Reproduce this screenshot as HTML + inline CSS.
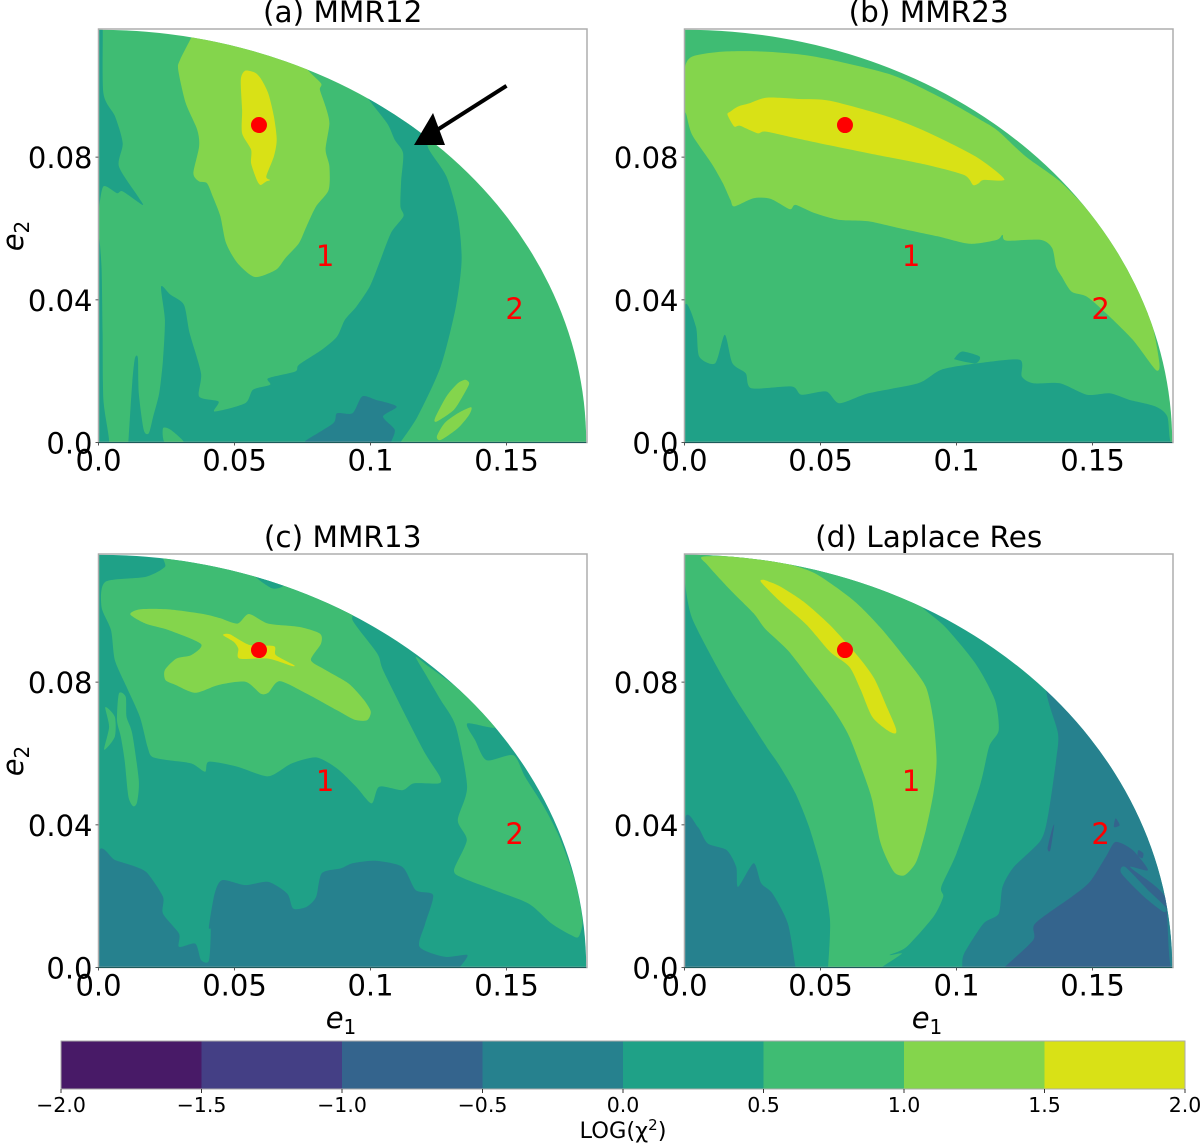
<!DOCTYPE html>
<html lang="en">
<head>
<meta charset="utf-8">
<title>Chi-squared contour maps of resonances</title>
<style>
html,body{margin:0;padding:0;background:#fff;}
svg{display:block;font-family:"DejaVu Sans","Liberation Sans",sans-serif;}
</style>
</head>
<body>
<svg id="figure" width="1200" height="1144" viewBox="0 0 1200 1144" xmlns="http://www.w3.org/2000/svg">
  <rect x="0" y="0" width="1200" height="1144" fill="#fff"/>
  <g id="panel-a"></g>
  <g id="panel-b"></g>
  <g id="panel-c"></g>
  <g id="panel-d"></g>
  <text x="342.7" y="22" font-size="29.5" text-anchor="middle">(a) MMR12</text>
  <text x="928.7" y="22" font-size="29.5" text-anchor="middle">(b) MMR23</text>
  <text x="342.7" y="547" font-size="29.5" text-anchor="middle">(c) MMR13</text>
  <text x="928.7" y="547" font-size="29.5" text-anchor="middle">(d) Laplace Res</text>
  <text transform="translate(23,236) rotate(-90)" font-size="29" text-anchor="middle"><tspan font-style="italic">e</tspan><tspan font-size="20" dy="6">2</tspan></text>
  <text transform="translate(23,761) rotate(-90)" font-size="29" text-anchor="middle"><tspan font-style="italic">e</tspan><tspan font-size="20" dy="6">2</tspan></text>
  <text x="341" y="1028" font-size="29" text-anchor="middle"><tspan font-style="italic">e</tspan><tspan font-size="20" dy="6">1</tspan></text>
  <text x="927" y="1028" font-size="29" text-anchor="middle"><tspan font-style="italic">e</tspan><tspan font-size="20" dy="6">1</tspan></text>
  <g id="colorbar"></g>
  <text x="623" y="1138" font-size="22.5" text-anchor="middle">LOG(χ<tspan font-size="15" dy="-8">2</tspan><tspan dy="8">)</tspan></text>
</svg>
<script>
/* All contour vertices are flat [e1, e2, e1, e2, ...] lists in thousandths of eccentricity. */
const levelBounds = [-2.0, -1.5, -1.0, -0.5, 0.0, 0.5, 1.0, 1.5, 2.0];
const levelColors = ["#481a67", "#443f85", "#34648d", "#26818e", "#1fa187", "#3fbc73", "#84d54c", "#d9e116"];
const colorbarTickLabels = ["\u22122.0", "\u22121.5", "\u22121.0", "\u22120.5", "0.0", "0.5", "1.0", "1.5", "2.0"];
const xTicks = [0, 50, 100, 150];
const xTickLabels = ["0.0", "0.05", "0.1", "0.15"];
const yTicks = [0, 40, 80];
const yTickLabels = ["0.0", "0.04", "0.08"];
const domainE1Max = 179.3;
const domainE2Max = 115.7;
const bestFit = [59, 89];
const regionOne = [83.3, 52.6];
const regionTwo = [153, 37.7];
const arrowTail = [150, 100];
const arrowTip = [116, 83.4];

const a_stripTop = [0,117, 1.5,117, 1.8,97.9, 6.1,91.4, 8.9,83.9, 7.5,77.4, 14.5,69, 16.2,66.6, 8.9,70.4, 6.8,69.9, 1.8,71.8, 0.1,65.2, 0,65];
const a_stripLow = [0,55, 1.1,49.3, 1.5,30.7, 1.8,12, 3.9,0, 0,0];
const a_band = [11,0, 12.4,16.6, 13.4,23.6, 14.5,23.6, 14.8,13.8, 16.6,3.6, 18.5,2.6, 20.1,7.3, 22.3,13.8, 23.7,23.2, 24.4,34.4, 23,43.7, 26.5,41.4, 31.4,38.6, 33.5,30.7, 37.7,19.4, 37,12.9, 44.1,11.5, 42.7,8.7, 53.9,11, 56.8,14.8, 63.1,16.2, 62.4,18, 72.3,19.9, 73.7,21.8, 82.1,26, 87.7,29.7, 90.6,34.4, 94.8,38.1, 99.7,43.7, 103.2,50.3, 107.5,58.7, 112.1,63.4, 111,66.2, 111.3,73.6, 112,81.1, 108.9,84.9, 106.1,89.5, 99,96.5, 97.6,99, 118,89, 121.5,82.1, 127.9,74.6, 132.1,63.4, 133.5,51.2, 131.4,38.1, 125.8,21.3, 117.3,7.3, 111,0, 110.5,-1, 11,-1];
const a_wedge = [23.7,4, 26.5,3.6, 31.4,0, 24.4,0];
const a_darkBlob = [76.5,0, 76.5,0.7, 86.3,5.4, 87.7,8.2, 93.4,8.2, 96.9,12.9, 101.8,12, 109.6,10.1, 104.6,7.3, 108.9,3.6, 107.5,0, 107.5,-1, 76.5,-1];
const a_light = [35,115, 30,107.3, 29.3,104.5, 32.1,95.1, 36.3,87.7, 37,83, 34.9,75.5, 37,73.2, 39.9,72.7, 42,69, 44.8,63.4, 46.9,55.9, 51.1,50.3, 57.5,46.4, 65.2,48.4, 68.7,51.7, 73.7,55.9, 76.5,60.6, 80,66.2, 84.6,70.8, 84.9,77.4, 83.5,82.1, 84.9,89.5, 83.5,94.2, 81.4,98.9, 81.8,100.7, 76.5,105, 76.5,110, 35,118];
const a_yellow = [53.9,104.2, 52.3,101.7, 52.8,93.3, 52.8,86.7, 56.1,82.1, 56.1,78.3, 58.2,73.6, 59.6,72.2, 61.7,73.2, 63.1,73.6, 61.7,74.6, 64.5,80.2, 65.5,84.9, 64.5,91.4, 62.4,97.9, 59.6,102.1, 57.5,103.7];
const a_islandUpper = [134.9,17.6, 132.1,16.6, 127.9,12.9, 123.7,6.8, 124.4,5.9, 130.7,9.2, 134.9,14.3, 136.3,16.6];
const a_islandLower = [137,9.9, 132.1,8.2, 127.2,5.4, 124.4,1.7, 125.8,0.7, 132.1,4, 136.3,7.8];

const b_light = [0,104.5, 2.8,108.2, 14.1,109.6, 29.6,109.6, 47.9,108.2, 76,103.1, 95.8,96.1, 109.9,90, 115.5,87.2, 125.4,80.2, 138,73.2, 149.3,64.3, 157.7,55.9, 166.2,44.7, 171.8,33.5, 174.6,22.2, 173.2,20.4, 164.8,28.8, 154.9,36.3, 147.9,40.9, 142.3,42.3, 138.7,46.5, 136.6,49.3, 135.2,54.5, 131,56.8, 118.3,56.6, 116.9,58.2, 114.8,56.8, 104.9,55.7, 93,57.8, 78.9,60.1, 67.6,62, 57,62.4, 47.9,64.3, 40.8,66.6, 38.7,65.4, 31.7,68.3, 25.4,68.5, 18.3,66.2, 16.9,68, 14.1,72.7, 9.9,78.3, 2.8,86.3, 0.7,91.9, 0,93.7];
const b_yellow = [16.9,92.8, 15.8,91.9, 18.3,88.6, 20.4,88.8, 26.8,86.7, 29.6,87.2, 39.4,85.6, 53.5,83.3, 67.6,81.1, 88.7,77.9, 102.8,75, 106.1,72.2, 108.2,72.7, 109.9,73.6, 117.6,73.8, 107,80.2, 88.7,87.2, 74.6,91.4, 53.5,95.8, 42.3,96.3, 30.3,96.7, 23.9,95.1, 19.7,94.2];
const b_teal = [0,37.7, 4.2,32.5, 5.4,24.1, 11.3,22.2, 14.8,30.2, 17.6,22.2, 22.5,19.4, 24.6,15.2, 39.4,15.7, 43,13.4, 52.1,14.3, 57,11, 67.6,13.8, 85.9,16.6, 94.4,20.4, 107.7,22.2, 123.2,23.2, 124,18.5, 128.2,16.6, 138,16.6, 147.9,13.4, 156.3,13.8, 163.4,12, 173.2,10.1, 177.5,7.3, 178.9,0, 185,0, 0,0];
const b_sliver = [99.3,23.6, 102.1,25.5, 108.5,24.1, 107,22.2, 99.9,23.2];

const c_green = [25.8,116, 24.4,112.3, 17.3,109.5, 2.5,108.1, 1.1,101.1, 4.6,94.6, 6,86.2, 10.3,78.7, 15.2,70.3, 18,61.9, 19.7,59.1, 25.8,58.1, 34.2,57.2, 39.2,54.9, 40.6,57.7, 51.1,56.3, 62.4,53.6, 71,57.2, 80,58.9, 87.7,55.8, 94.7,50.7, 100.4,46, 103.2,50.7, 111.7,49.7, 115.9,51.6, 125.1,51.6, 125.5,53.5, 120.1,60, 113.1,70.3, 104.6,83.4, 102.5,88, 93.4,97.4, 93.4,102, 60,112];
const c_fingerLong = [7.5,76.8, 10,75.9, 10.3,70.3, 12.4,65.6, 14.8,52.5, 14.2,46.4, 12.8,45.2, 11,47.9, 9.6,58.1, 8.2,64.7, 6.8,69.3];
const c_fingerShort = [2.5,73, 6,70.3, 6,64.7, 2.1,61.1, 3.9,67.5];
const c_bump = [57.5,110, 63.8,106.3, 68,107, 68,110];
const c_right = [116.6,87.1, 121.5,84.3, 132.8,77.8, 146.2,67.5, 135.6,68.4, 138.5,63.7, 142.7,58.1, 152.5,59.5, 156.8,53.5, 163.8,45, 169.4,36.6, 175.1,24.5, 177.9,13.3, 176.5,8.6, 173.7,9.1, 166.6,12.3, 158.2,17.9, 145.5,21.7, 134.2,25, 130.7,27.3, 135.4,35.7, 132.1,41.3, 135.5,50.7, 131.4,67.5, 125.8,75, 120.1,82.4];
const c_light = [11.7,99, 15.2,100.4, 25.8,100.4, 38.5,99.1, 44.8,97.9, 51.1,96.4, 55.3,99.1, 62.4,96.4, 73.7,95.5, 81.4,93.6, 81.8,90.8, 78.1,86.2, 83.5,83.4, 92,79.6, 97.6,75, 100.1,71.7, 98.7,69.3, 94,69.5, 87.7,72.1, 76.5,76.8, 66.6,80.3, 62.4,77, 59.6,76.8, 54,80.1, 44.1,79.2, 35.6,77, 28.4,79.2, 24.6,80.6, 24.4,83.4, 28.6,86.6, 34.2,87.6, 37.7,90.7, 25.8,94.6, 17.3,96.4];
const c_yellow = [45.8,93.2, 48.3,93.4, 55.6,90.4, 64.5,90.1, 65.2,87.6, 71.8,84.8, 70.8,84.6, 62.4,86.6, 51.8,86.6, 51.4,89.4, 49.7,91.3];
const c_dark = [0,32, 6.1,30.1, 13.8,28.2, 18,26.4, 23.7,19.8, 23.7,15.1, 29.6,9.5, 29.6,5.8, 35.6,6.7, 37.7,2.1, 40.6,1.9, 41.3,10.5, 40.6,11.4, 42.7,20.7, 45.5,24.5, 54,23.1, 62.4,24, 69.4,20.7, 71.6,16.5, 76.5,17, 80,19.8, 82.1,26.4, 89.2,27.8, 93.4,29.2, 101.8,29.9, 111.7,28.2, 116.6,21.7, 123,20.3, 120.1,12.3, 118,5.8, 127.2,3, 135.6,3.5, 132.8,0, 132.8,-1, 0,-1];

const d_green = [0,118, 0.3,107.3, 2.8,97.9, 11.3,85.2, 18.3,75.9, 25.4,67.5, 31,60.9, 35.2,56.3, 40.8,48.8, 45.8,39.4, 50.7,26.4, 53.5,13.3, 52.8,0, 52.8,-1, 72.5,-1, 72.5,0, 79.9,3.9, 75.4,3.5, 81.7,5.8, 91.5,14.2, 95.1,19.8, 94.4,22.6, 100,32, 108.5,50.7, 112,61.9, 115.5,66.5, 114.1,75, 107,85.2, 95.8,95.5, 87.3,101.1, 87.3,104, 40,116];
const d_light = [6.8,115.2, 8.5,112.8, 16.9,105.8, 25.4,99.3, 29.6,95, 38,88.9, 46.5,80.6, 54.9,72.1, 60.6,64.7, 66.2,53.5, 69,46.9, 71.8,35.7, 74.6,30.1, 77.5,26.4, 81,25.9, 85.2,29.6, 88.7,38.5, 91.5,48.8, 92.7,58.1, 91.5,69.3, 88.7,78.7, 81.7,86.2, 71.8,95.5, 62,103, 47.9,110.5, 35.2,113.7, 23.9,115.1];
const d_yellow = [28.9,108.7, 28.2,108, 35.2,102.6, 45,96, 53.5,88.5, 60.6,84.3, 64.8,77.8, 69,70.3, 74.6,66.5, 77.5,65.6, 77.7,67.1, 74.6,72.7, 69.7,81.1, 63.4,87.6, 53.5,96, 43.7,102.6, 35.2,106.8, 31,108.2];
const d_darkLeft = [0,40.8, 4.9,39.4, 8.5,34.8, 15.5,32.9, 19,28.2, 19.7,22.6, 25.4,29.2, 28.2,23.6, 32.4,20.7, 38,12.3, 40.8,0, 40.8,-1, 0,-1];
const d_darkRight = [133.1,77.3, 137.3,65.6, 136.6,58.1, 133.8,43.2, 131,35.7, 121.1,28.2, 116.9,22.6, 115.5,15.1, 109.9,12.3, 102.8,3.9, 102.1,0, 102.1,-1, 185,-1, 185,90, 135,90];
const d_deep = [117.6,0, 128.2,7.7, 128.9,12.3, 142.3,19.8, 149,24, 154.9,31, 158.5,35.2, 164.8,32.9, 170.4,27.3, 163.8,28.2, 171.8,23.6, 176.7,19.8, 177.5,13.3, 178.9,0, 185,0, 185,-1, 117.6,-1];
const d_streak = [162,28.2, 170.4,21.7, 176.8,17, 176.1,15.6, 169,19.8, 160.6,26.4];
const d_spotA = [158.5,41.8, 160,39.9, 157.9,39.4];
const d_spotB = [166.9,32.9, 168.7,32, 168.3,30.6, 166.6,31.5];
const d_spotC = [135.9,39.9, 134.5,32.9, 133.5,33.4, 135,38.4];

/* Each layer: [level index, vertices, name]; painted in order over the panel's base level. */
const layersA = [[4,a_stripTop,"strip-top"],[4,a_stripLow,"strip-low"],[4,a_band,"band"],[5,a_wedge,"wedge"],[3,a_darkBlob,"dark-blob"],[6,a_light,"light"],[7,a_yellow,"peak"],[6,a_islandUpper,"island-upper"],[6,a_islandLower,"island-lower"]];
const layersB = [[6,b_light,"light"],[7,b_yellow,"peak"],[4,b_teal,"teal"],[4,b_sliver,"sliver"]];
const layersC = [[5,c_green,"green"],[5,c_fingerLong,"finger-long"],[5,c_fingerShort,"finger-short"],[4,c_bump,"bump"],[5,c_right,"right"],[6,c_light,"light"],[7,c_yellow,"peak"],[3,c_dark,"dark"]];
const layersD = [[5,d_green,"green"],[6,d_light,"light"],[7,d_yellow,"peak"],[3,d_darkLeft,"dark-left"],[3,d_darkRight,"dark-right"],[2,d_deep,"deep"],[3,d_streak,"streak"],[2,d_spotA,"spot-a"],[2,d_spotB,"spot-b"],[2,d_spotC,"spot-c"]];

const panels = [
  {id:"a", left:98.5, bottom:442.5, base:5, layers:layersA, arrow:true},
  {id:"b", left:684.5, bottom:442.5, base:5, layers:layersB},
  {id:"c", left:98.5, bottom:967.5, base:4, layers:layersC},
  {id:"d", left:684.5, bottom:967.5, base:4, layers:layersD}
];

const SVGNS = "http://www.w3.org/2000/svg";
const pxPerE1 = 2.72, pxPerE2 = 3.567;
const axisWidth = 488.5, axisHeight = 413.5;

function mk(tag, attrs, parent) {
  const el = document.createElementNS(SVGNS, tag);
  for (const k in attrs) el.setAttribute(k, attrs[k]);
  parent.appendChild(el);
  return el;
}

/* Closed Catmull-Rom outline through the mapped contour vertices. */
function smoothPath(px) {
  const n = px.length;
  const at = i => px[(i + n) % n];
  const k = 8;
  let d = "M" + px[0][0].toFixed(1) + " " + px[0][1].toFixed(1);
  for (let i = 0; i < n; i++) {
    const p0 = at(i - 1), p1 = at(i), p2 = at(i + 1), p3 = at(i + 2);
    d += " C" + (p1[0] + (p2[0] - p0[0]) / k).toFixed(1) + " " + (p1[1] + (p2[1] - p0[1]) / k).toFixed(1) +
         " " + (p2[0] - (p3[0] - p1[0]) / k).toFixed(1) + " " + (p2[1] - (p3[1] - p1[1]) / k).toFixed(1) +
         " " + p2[0].toFixed(1) + " " + p2[1].toFixed(1);
  }
  return d + " Z";
}

function drawPanel(p) {
  const g = document.getElementById("panel-" + p.id);
  const xAxis = v => p.left + v * pxPerE1;
  const yAxis = v => p.bottom - v * pxPerE2;

  const domainPath = "M" + xAxis(0) + " " + yAxis(0) +
    " L" + xAxis(0) + " " + yAxis(domainE2Max) +
    " A" + (domainE1Max * pxPerE1) + " " + (domainE2Max * pxPerE2) + " 0 0 1 " + xAxis(domainE1Max) + " " + yAxis(0) + " Z";

  const clip = mk("clipPath", {id: "domain-" + p.id}, g);
  mk("path", {d: domainPath}, clip);

  const base = mk("path", {d: domainPath, fill: levelColors[p.base]}, g);
  
  

  const contours = mk("g", {"clip-path": "url(#domain-" + p.id + ")"}, g);
  
  
  p.layers.forEach(function (layer) {
    const v = layer[1];
    const px = [];
    for (let i = 0; i < v.length; i += 2) px.push([xAxis(v[i]), yAxis(v[i + 1])]);
    const shape = mk("path", {d: smoothPath(px), fill: levelColors[layer[0]]}, contours);
    
    
  });

  const frame = mk("rect", {x: p.left, y: p.bottom - axisHeight, width: axisWidth, height: axisHeight, fill: "none", stroke: "#adadad", "stroke-width": 1.5}, g);
  
  
  const baseLine = mk("line", {x1: p.left, x2: xAxis(domainE1Max), y1: p.bottom, y2: p.bottom, stroke: "#1c5a5a", "stroke-width": 1}, g);
  
  

  xTicks.forEach(function (t, i) {
    const tick = mk("line", {x1: xAxis(t), x2: xAxis(t), y1: p.bottom, y2: p.bottom + 3, stroke: "#555", "stroke-width": 1}, g);
    
    
    const label = mk("text", {x: xAxis(t), y: p.bottom + 28, "font-size": 29, "text-anchor": "middle", fill: "#000"}, g);
    label.textContent = xTickLabels[i];
    
    
  });
  yTicks.forEach(function (t, i) {
    const tick = mk("line", {x1: p.left - 3, x2: p.left, y1: yAxis(t), y2: yAxis(t), stroke: "#555", "stroke-width": 1}, g);
    
    
    const label = mk("text", {x: p.left - 6, y: yAxis(t) + 11, "font-size": 29, "text-anchor": "end", fill: "#000"}, g);
    label.textContent = yTickLabels[i];
    
    
  });

  const marker = mk("circle", {cx: xAxis(bestFit[0]), cy: yAxis(bestFit[1]), r: 8, fill: "#ff0000"}, g);
  
  

  const one = mk("text", {x: xAxis(regionOne[0]), y: yAxis(regionOne[1]) + 11, "font-size": 29, "text-anchor": "middle", fill: "#ff0000"}, g);
  one.textContent = "1";
  
  
  const two = mk("text", {x: xAxis(regionTwo[0]), y: yAxis(regionTwo[1]) + 11, "font-size": 29, "text-anchor": "middle", fill: "#ff0000"}, g);
  two.textContent = "2";
  
  

  if (p.arrow) {
    const tx = xAxis(arrowTip[0]), ty = yAxis(arrowTip[1]);
    const shaft = mk("line", {x1: xAxis(arrowTail[0]), y1: yAxis(arrowTail[1]), x2: tx + 23, y2: ty - 15, stroke: "#000", "stroke-width": 4}, g);
    
    
    const head = mk("polygon", {points: tx + "," + ty + " " + (tx + 19) + "," + (ty - 32) + " " + (tx + 31) + "," + ty, fill: "#000"}, g);
    
    
  }
}

panels.forEach(drawPanel);

function drawColorbar() {
  const g = document.getElementById("colorbar");
  const cbLeft = 61, cbRight = 1185, cbTop = 1041, cbBottom = 1089;
  const scale = v => cbLeft + (v - levelBounds[0]) / (levelBounds[levelBounds.length - 1] - levelBounds[0]) * (cbRight - cbLeft);
  levelColors.forEach(function (c, i) {
    const cell = mk("rect", {x: scale(levelBounds[i]), y: cbTop, width: scale(levelBounds[i + 1]) - scale(levelBounds[i]) + 0.3, height: cbBottom - cbTop, fill: c}, g);
    
    
  });
  const border = mk("rect", {x: cbLeft, y: cbTop, width: cbRight - cbLeft, height: cbBottom - cbTop, fill: "none", stroke: "#aaa", "stroke-width": 1}, g);
  
  
  levelBounds.forEach(function (b, i) {
    const tick = mk("line", {x1: scale(b), x2: scale(b), y1: cbBottom, y2: cbBottom + 4, stroke: "#333", "stroke-width": 1}, g);
    
    
    const label = mk("text", {x: scale(b), y: 1112, "font-size": 20.5, "text-anchor": "middle", fill: "#000"}, g);
    label.textContent = colorbarTickLabels[i];
    
    
  });
}
drawColorbar();
</script>
</body>
</html>
